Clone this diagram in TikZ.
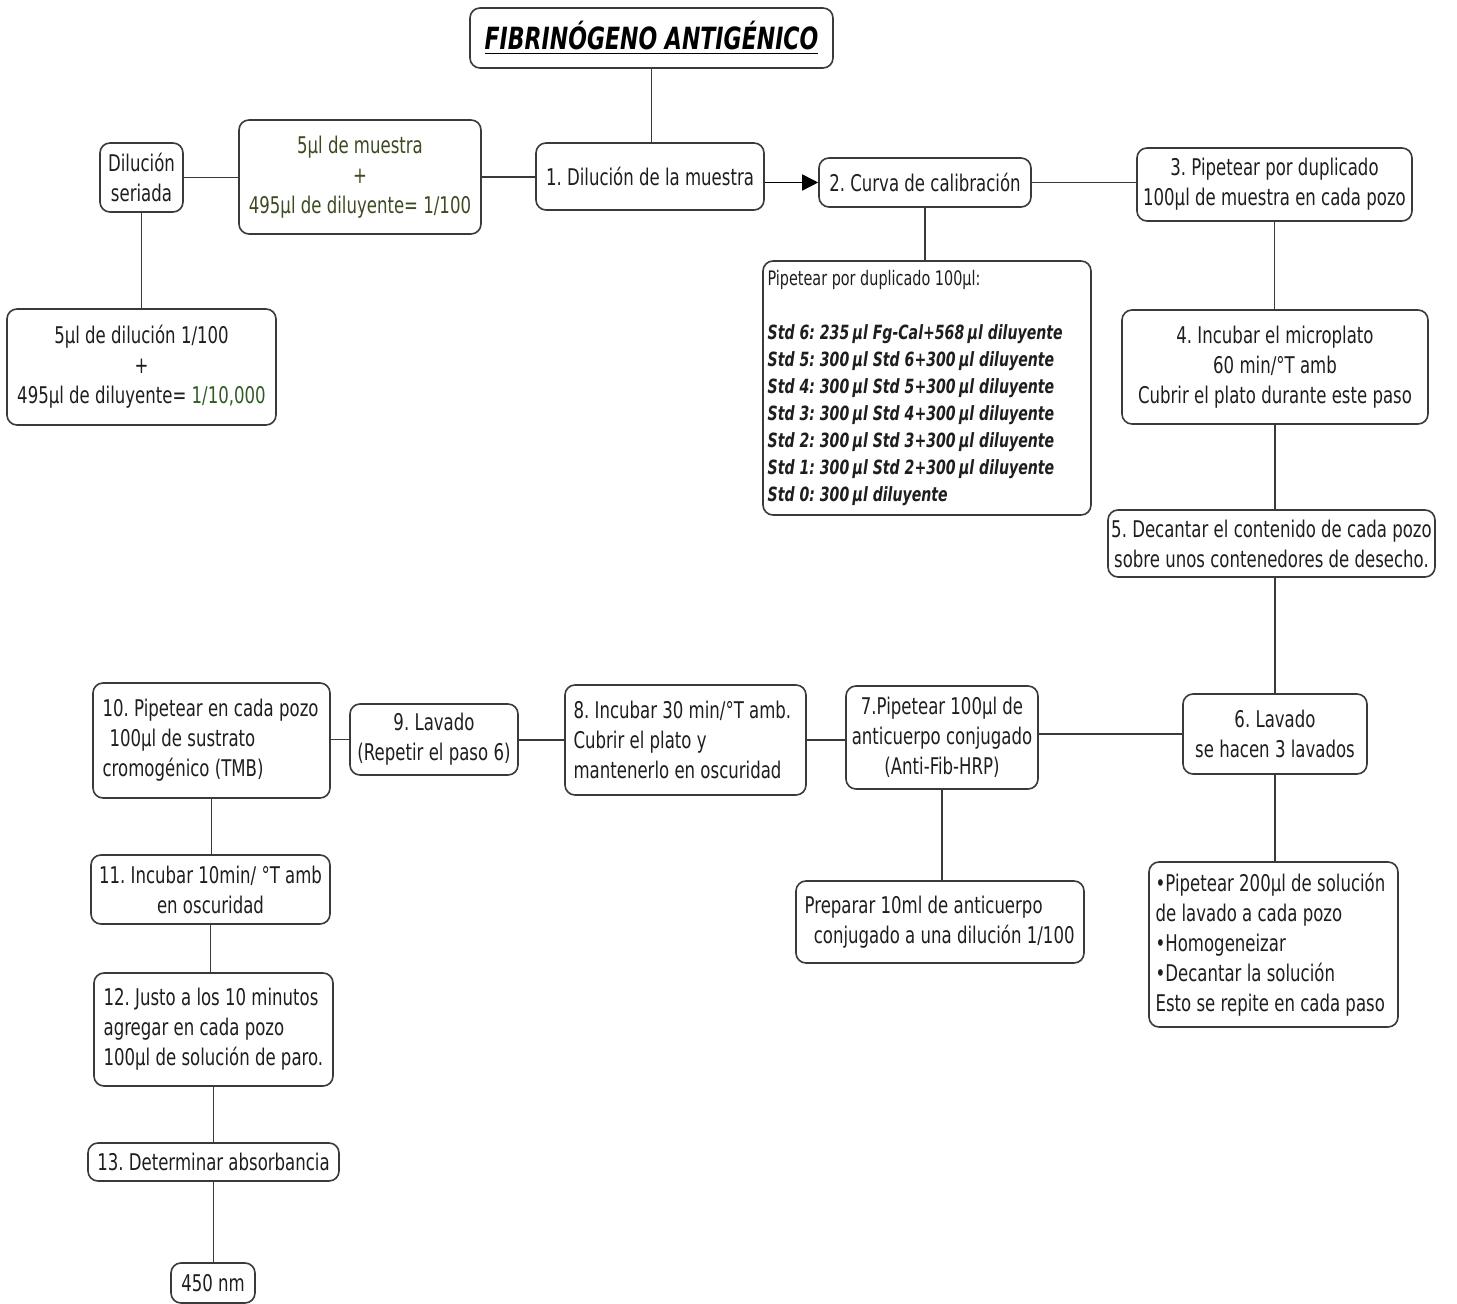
\documentclass[tikz,border=0pt]{standalone}
\usepackage{fontspec}
\setmainfont{DejaVu Sans}[FakeStretch=0.72]
\frenchspacing
\usetikzlibrary{arrows.meta}
\definecolor{ink}{HTML}{1E1E1E}
\definecolor{edge}{HTML}{3A3A3A}
\definecolor{olive}{HTML}{3C4A22}
\definecolor{leaf}{HTML}{2E5C24}
\tikzset{
  txt/.style={text=ink, inner sep=0pt, font=\fontsize{11.5}{15}\selectfont},
  box/.style={txt, draw=edge, line width=0.8pt, rounded corners=5pt, align=center},
  wh/.style 2 args={minimum width=#1*0.5pt, minimum height=#2*0.5pt},
  ltxt/.style={txt, align=left, anchor=west},
  link/.style={draw=edge, line width=0.8pt},
}
\begin{document}
\begin{tikzpicture}[x=0.5pt,y=-0.5pt]
\useasboundingbox (0,0) rectangle (1457,1304);

% title
\node[box, wh={363}{60}, text=black, font=\fontsize{15.3}{18}\selectfont\bfseries\itshape] (title) at (651.5,38)
  {\underline{FIBRINÓGENO ANTIGÉNICO}};

% upper row
\node[box, wh={83}{69}] (ser) at (141.5,177.5) {Dilución\\seriada};
\node[box, wh={242}{114}, text=olive] (m5) at (360,177)
  {5µl de muestra\\+\\495µl de diluyente= 1/100};
\node[box, wh={228}{67}] (s1) at (650,176.5) {1. Dilución de la muestra};
\node[box, wh={212}{49}] (s2) at (925,182.5) {2. Curva de calibración};
\node[box, wh={275}{73}] (s3) at (1274.5,184.5) {3. Pipetear por duplicado\\100µl de muestra en cada pozo};
\node[box, wh={269}{116}] (dil) at (141.5,367)
  {5µl de dilución 1/100\\+\\495µl de diluyente= \textcolor{leaf}{1/10,000}};

% calibration curve
\node[box, wh={328}{254}] (cal) at (927,388) {};
\node[ltxt, font=\fontsize{10}{13.5}\selectfont, xshift=2.5pt] (calt) at (cal.west)
  {Pipetear por duplicado 100µl:\\[13.5pt]
   {\fontsize{9.8}{13.5}\selectfont\bfseries\itshape Std 6: 235\,µl Fg-Cal+568\,µl diluyente}\\
   {\fontsize{9.8}{13.5}\selectfont\bfseries\itshape Std 5: 300\,µl Std 6+300\,µl diluyente}\\
   {\fontsize{9.8}{13.5}\selectfont\bfseries\itshape Std 4: 300\,µl Std 5+300\,µl diluyente}\\
   {\fontsize{9.8}{13.5}\selectfont\bfseries\itshape Std 3: 300\,µl Std 4+300\,µl diluyente}\\
   {\fontsize{9.8}{13.5}\selectfont\bfseries\itshape Std 2: 300\,µl Std 3+300\,µl diluyente}\\
   {\fontsize{9.8}{13.5}\selectfont\bfseries\itshape Std 1: 300\,µl Std 2+300\,µl diluyente}\\
   {\fontsize{9.8}{13.5}\selectfont\bfseries\itshape Std 0: 300\,µl diluyente}};

% right column
\node[box, wh={306}{114}] (s4) at (1275,367)
  {4. Incubar el microplato\\60 min/°T amb\\Cubrir el plato durante este paso};
\node[box, wh={327}{67}] (s5) at (1271.5,543.5)
  {5. Decantar el contenido de cada pozo\\sobre unos contenedores de desecho.};
\node[box, wh={184}{80}] (s6) at (1275,734) {6. Lavado\\se hacen 3 lavados};
\node[box, wh={249}{165}] (wash) at (1273.5,944.5) {};
\node[ltxt, xshift=3.5pt] (washt) at (wash.west)
  {•Pipetear 200µl de solución\\de lavado a cada pozo\\•Homogeneizar\\•Decantar la solución\\Esto se repite en cada paso};

% lower row
\node[box, wh={192}{103}] (s7) at (942,737.5)
  {7.Pipetear 100µl de\\anticuerpo conjugado\\(Anti-Fib-HRP)};
\node[box, wh={288}{82}] (prep) at (940,922) {};
\node[ltxt, xshift=4.5pt] (prept) at (prep.west)
  {Preparar 10ml de anticuerpo\\\hspace*{0.4em}conjugado a una dilución 1/100};
\node[box, wh={241}{110}] (s8) at (685.5,740) {};
\node[ltxt, xshift=4.5pt] (s8t) at (s8.west)
  {8. Incubar 30 min/°T amb.\\Cubrir el plato y\\mantenerlo en oscuridad};
\node[box, wh={168}{71}] (s9) at (434,739.5) {9. Lavado\\(Repetir el paso 6)};
\node[box, wh={237}{115}] (s10) at (211.5,740.5) {};
\node[ltxt, xshift=5pt] (s10t) at (s10.west)
  {10. Pipetear en cada pozo\\\hspace*{0.3em}100µl de sustrato\\cromogénico (TMB)};

% left column
\node[box, wh={239}{69}] (s11) at (210.5,889.5) {11. Incubar 10min/ °T amb\\en oscuridad};
\node[box, wh={239}{113}] (s12) at (213.5,1029.5) {};
\node[ltxt, xshift=5pt] (s12t) at (s12.west)
  {12. Justo a los 10 minutos\\agregar en cada pozo\\100µl de solución de paro.};
\node[box, wh={251}{38}] (s13) at (213.5,1162) {13. Determinar absorbancia};
\node[box, wh={84}{40}] (nm) at (213,1283) {450 nm};

% connectors
\draw[link] (title.south) -- (title.south |- s1.north);
\draw[link] (ser.east) -- (ser.east -| m5.west);
\draw[link] (m5.east) -- (m5.east -| s1.west);
\draw[link] (ser.south) -- (ser.south |- dil.north);
\draw[link, -{Triangle[length=8pt,width=8pt]}, draw=black] (s1.east |- s2.west) -- (s2.west);
\draw[link] (s2.east) -- (s2.east -| s3.west);
\draw[link] (s2.south) -- (s2.south |- cal.north);
\draw[link] (s3.south) -- (s3.south |- s4.north);
\draw[link] (s4.south) -- (s4.south |- s5.north);
\draw[link] (s6.north |- s5.south) -- (s6.north);
\draw[link] (s6.west) -- (s6.west -| s7.east);
\draw[link] (s6.south) -- (s6.south |- wash.north);
\draw[link] (s7.south) -- (s7.south |- prep.north);
\draw[link] (s8.east) -- (s8.east -| s7.west);
\draw[link] (s8.west) -- (s8.west -| s9.east);
\draw[link] (s9.west) -- (s9.west -| s10.east);
\draw[link] (s10.south) -- (s10.south |- s11.north);
\draw[link] (s11.south) -- (s11.south |- s12.north);
\draw[link] (s12.south) -- (s12.south |- s13.north);
\draw[link] (s13.south) -- (s13.south |- nm.north);
\end{tikzpicture}
\end{document}
